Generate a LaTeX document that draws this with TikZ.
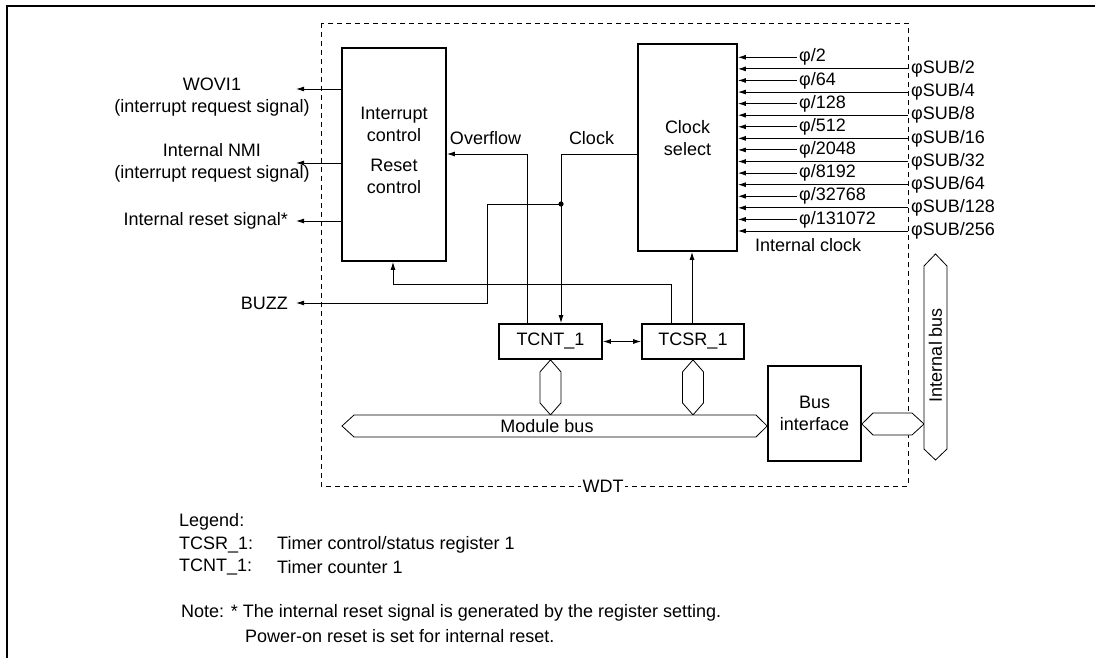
\documentclass[tikz,border=0pt]{standalone}
\usepackage{fontspec}
\setmainfont{Liberation Sans}
\usetikzlibrary{arrows.meta}

\begin{document}
\begin{tikzpicture}[x=1pt, y=-1pt, >={Latex[length=8pt,width=5pt]},
    every node/.style={font=\fontsize{18}{22}\selectfont, inner sep=0pt},
    box/.style={draw, line width=1.8pt, align=center},
    sig/.style={line width=0.9pt},
    bus/.style={draw, line width=0.8pt, fill=white}]
    \useasboundingbox (0,0) rectangle (1095,658);
    \draw[line width=2pt] (7,658) -- (7,6) -- (1095,6);

    % WDT module outline
    \draw[line width=0.8pt, dash pattern=on 5pt off 4pt] (321,23) rectangle (908,486);
    \node[fill=white, inner xsep=2pt] (wdt) at (603,486) {WDT};

    \node[box, minimum width=104pt, minimum height=213pt] (irc) at (394,154.5) {};
    \node[align=center] (irctxt) at (394,150.5) {Interrupt\\control\\[8pt]Reset\\control};
    \node[box, minimum width=99pt, minimum height=207pt] (csel) at (687.5,147.5) {};
    \node[align=center] (cseltxt) at (687.5,138) {Clock\\select};
    \node[box, minimum width=103pt, minimum height=35pt] (tcnt) at (550.5,341.5) {TCNT\_1};
    \node[box, minimum width=102pt, minimum height=35pt] (tcsr) at (693,341.5) {TCSR\_1};
    \node[box, minimum width=93pt, minimum height=95pt] (busif) at (814.5,413.5) {Bus\\interface};

    % outputs
    \node[align=center] (wovi) at (212,97.5) {WOVI1\\(interrupt request signal)};
    \node[align=center] (nmi) at (212,162.5) {Internal NMI\\(interrupt request signal)};
    \node[anchor=east] (rst) at (288,221) {Internal reset signal*};
    \node[anchor=east] (buzz) at (288,303) {BUZZ};
    \coordinate (woviend) at (296,89);
    \coordinate (nmiend) at (296,163);
    \draw[sig,->] (irc.west |- woviend) -- (woviend);
    \draw[sig,->] (irc.west |- nmiend) -- (nmiend);
    \draw[sig,->] (irc.west |- rst.east) -- ([xshift=8pt]rst.east);

    % overflow and clock
    \node (ovf) at (485.5,138) {Overflow};
    \node (clk) at (591.5,138) {Clock};
    \coordinate (tap) at (561,204);
    \draw[sig,->] (tcnt.north -| 527,0) |- (irc.east |- 0,154);
    \draw[sig,->] (csel.west |- 0,154) -| (tcnt.north -| tap);
    \draw[sig,->] (tap) -- (487,204) |- ([xshift=8pt]buzz.east);
    \fill (tap) circle (2.6pt);
    \draw[sig,->] (tcsr.north -| 671,0) |- (393,284) -- (irc.south -| 393,0);
    \draw[sig,->] (tcsr.north -| 692,0) -- (csel.south -| 692,0);
    \draw[sig,<->] (tcnt.east) -- (tcsr.west);

    % clock inputs
    \foreach \lab [count=\k from 0] in {φ/2,φ/64,φ/128,φ/512,φ/2048,φ/8192,φ/32768,φ/131072} {
        \pgfmathsetmacro\yy{57.3+2*\k*11.58}
        \node[anchor=west, inner xsep=2pt] (phi\k) at (797,\yy) {\lab};
        \draw[sig,->] (phi\k.west) -- (csel.east |- phi\k.west);
    }
    \foreach \lab [count=\k from 0] in {φSUB/2,φSUB/4,φSUB/8,φSUB/16,φSUB/32,φSUB/64,φSUB/128,φSUB/256} {
        \pgfmathsetmacro\yy{57.3+(2*\k+1)*11.58}
        \coordinate (sub\k) at (908,\yy);
        \node[anchor=west, inner xsep=3pt] (sublab\k) at (sub\k) {\lab};
        \draw[sig,->] (sub\k) -- (csel.east |- sub\k);
    }
    \node[anchor=west] (intclk) at (755,245) {Internal clock};

    % buses
    \foreach \r in {tcnt,tcsr}
        \draw[bus] (\r.south) -- ++(10.5,12) -- ++(0,31) -- ++(-10.5,12) -- ++(-10.5,-12) -- ++(0,-31) -- cycle;
    \draw[bus] (342,426) -- (354,415) -- (756,415) -- (busif.west |- 0,426) -- (756,437) -- (354,437) -- cycle;
    \node (modbus) at (547,426) {Module bus};
    \draw[bus] (busif.east |- 0,424) -- (873,413) -- (912,413) -- (924,424) -- (912,435) -- (873,435) -- cycle;
    \draw[bus] (935.5,254) -- (947,266) -- (947,449) -- (935.5,460) -- (924,449) -- (924,266) -- cycle;
    \node[rotate=90] (ibus) at (935.5,355) {Internal bus};

    % legend
    \node[anchor=west] (leg) at (179,522) {Legend:};
    \node[anchor=west] (legcsr) at (179,545) {TCSR\_1:};
    \node[anchor=west] at (277,545) {Timer control/status register 1};
    \node[anchor=west] (legcnt) at (179,567) {TCNT\_1:};
    \node[anchor=west] at (277,567) {Timer counter 1};
    \node[anchor=west] (note) at (181,613) {Note: * The internal reset signal is generated by the register setting.};
    \node[anchor=west] (note2) at (245,636) {Power-on reset is set for internal reset.};
\end{tikzpicture}
\end{document}
